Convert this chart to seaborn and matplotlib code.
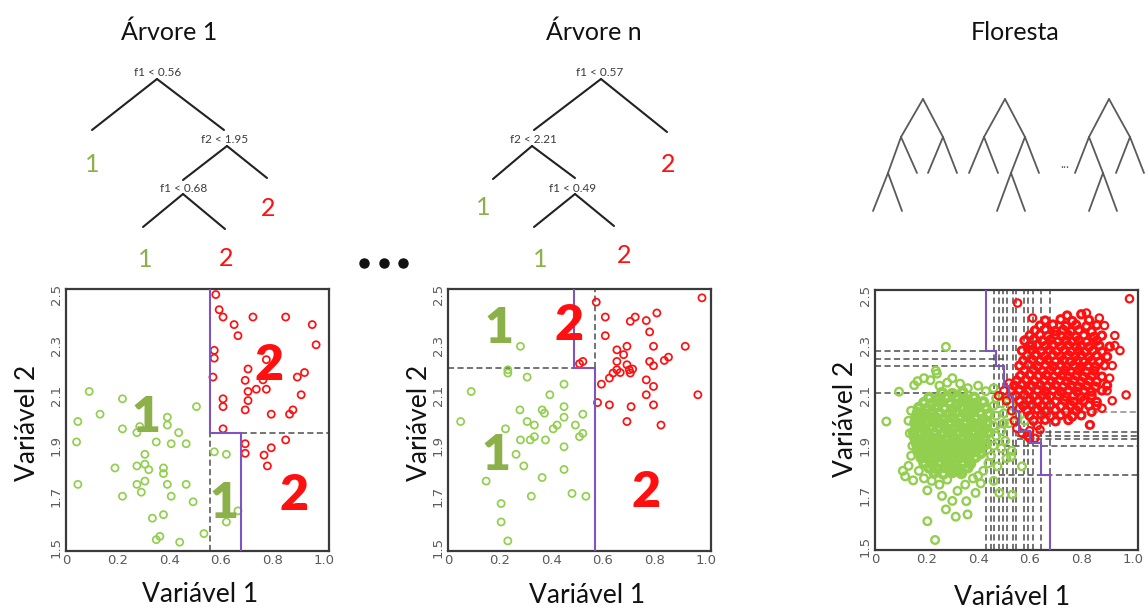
import matplotlib
matplotlib.use("Agg")
import matplotlib.pyplot as plt
import pandas as pd
import seaborn as sns

sns.set_style("white")
plt.rcParams["font.family"] = ["Lato", "DejaVu Sans"]

# ---------------------------------------------------------------- dados
# Árvore 1: amostra bootstrap (classe 1 = verde, classe 2 = vermelho)
arv1_c1_x = [0.09, 0.219, 0.132, 0.046, 0.219, 0.041, 0.046, 0.219, 0.275, 0.286,
             0.506, 0.393, 0.393, 0.437, 0.350, 0.408, 0.466, 0.306, 0.190, 0.275,
             0.306, 0.321, 0.378, 0.378, 0.306, 0.275, 0.292, 0.393, 0.466, 0.408,
             0.493, 0.335, 0.378, 0.364, 0.350, 0.441, 0.535, 0.575, 0.622, 0.667, 0.622]
arv1_c1_y = [2.116, 2.087, 2.026, 1.997, 1.968, 1.916, 1.748, 1.701, 1.953, 1.977,
             2.056, 2.014, 1.983, 1.953, 1.916, 1.909, 1.909, 1.867, 1.813, 1.821,
             1.828, 1.806, 1.813, 1.791, 1.761, 1.748, 1.717, 1.748, 1.748, 1.701,
             1.679, 1.614, 1.628, 1.542, 1.529, 1.519, 1.553, 1.877, 1.867, 1.643, 1.599]
arv1_c2_x = [0.581, 0.594, 0.609, 0.652, 0.667, 0.725, 0.852, 0.955, 0.970, 0.575,
             0.575, 0.570, 0.706, 0.695, 0.738, 0.706, 0.777, 0.764, 0.777, 0.897,
             0.925, 0.912, 0.609, 0.609, 0.706, 0.695, 0.796, 0.880, 0.867, 0.609,
             0.852, 0.695, 0.695, 0.768, 0.796, 0.781]
arv1_c2_y = [2.500, 2.440, 2.411, 2.381, 2.337, 2.411, 2.411, 2.381, 2.301, 2.279,
             2.248, 2.173, 2.205, 2.160, 2.125, 2.116, 2.125, 2.162, 2.242, 2.173,
             2.191, 2.103, 2.087, 2.056, 2.080, 2.043, 2.026, 2.043, 2.026, 1.968,
             1.924, 1.909, 1.871, 1.864, 1.893, 1.821]
# cortes da árvore 1: f1 < 0.56, f2 < 1.95, f1 < 0.68
arv1_cortes = [0.56, 1.95, 0.68]

# Árvore n
arvn_c1_x = [0.049, 0.090, 0.223, 0.232, 0.232, 0.281, 0.307, 0.279, 0.307, 0.335,
             0.365, 0.374, 0.395, 0.450, 0.450, 0.450, 0.423, 0.408, 0.494, 0.523,
             0.523, 0.510, 0.335, 0.319, 0.281, 0.378, 0.450, 0.264, 0.294, 0.450,
             0.365, 0.148, 0.323, 0.481, 0.535, 0.206, 0.206, 0.232]
arvn_c1_y = [1.997, 2.116, 1.968, 2.202, 2.189, 2.295, 2.173, 2.043, 1.997, 1.983,
             2.043, 2.030, 2.103, 2.145, 2.056, 2.014, 1.983, 1.968, 1.983, 2.026,
             1.950, 1.937, 1.937, 1.924, 1.924, 1.924, 1.897, 1.867, 1.821, 1.807,
             1.775, 1.761, 1.701, 1.712, 1.701, 1.672, 1.599, 1.524]
arvn_c2_x = [0.575, 0.985, 0.610, 0.610, 0.707, 0.726, 0.769, 0.810, 0.782, 0.694,
             0.655, 0.681, 0.797, 0.920, 0.855, 0.839, 0.782, 0.797, 0.655, 0.694,
             0.716, 0.703, 0.655, 0.640, 0.668, 0.707, 0.626, 0.595, 0.769, 0.797,
             0.769, 0.969, 0.580, 0.626, 0.710, 0.797, 0.694, 0.826, 0.523, 0.510]
arvn_c2_y = [2.470, 2.487, 2.411, 2.337, 2.394, 2.411, 2.397, 2.427, 2.352, 2.295,
             2.281, 2.262, 2.295, 2.295, 2.252, 2.239, 2.235, 2.218, 2.235, 2.222,
             2.205, 2.202, 2.202, 2.189, 2.191, 2.189, 2.169, 2.145, 2.162, 2.136,
             2.103, 2.103, 2.072, 2.063, 2.056, 2.063, 1.997, 1.983, 2.235, 2.226]
# cortes da árvore n: f1 < 0.57, f2 < 2.21, f1 < 0.49
arvn_cortes = [0.57, 2.21, 0.49]

# Floresta: conjunto completo, classe 1 (núcleo denso e periferia)
floresta_c1_nucleo = [
    (0.26, 2.112), (0.30, 2.108), (0.34, 2.114),
    (0.21, 2.092), (0.245, 2.088), (0.28, 2.094), (0.315, 2.09), (0.35, 2.086), (0.385, 2.093),
    (0.19, 2.072), (0.22, 2.068), (0.255, 2.074), (0.29, 2.07), (0.32, 2.066), (0.355, 2.073),
    (0.39, 2.069), (0.42, 2.075),
    (0.17, 2.052), (0.20, 2.048), (0.235, 2.054), (0.27, 2.05), (0.30, 2.046), (0.335, 2.053),
    (0.37, 2.049), (0.40, 2.055), (0.43, 2.05),
    (0.165, 2.032), (0.19, 2.028), (0.22, 2.034), (0.25, 2.03), (0.285, 2.026), (0.315, 2.033),
    (0.35, 2.029), (0.38, 2.035), (0.41, 2.03), (0.44, 2.026),
    (0.16, 2.012), (0.185, 2.008), (0.21, 2.014), (0.24, 2.01), (0.27, 2.006), (0.30, 2.013),
    (0.33, 2.009), (0.36, 2.015), (0.39, 2.01), (0.42, 2.006),
    (0.155, 1.992), (0.18, 1.988), (0.205, 1.994), (0.235, 1.99), (0.265, 1.986), (0.29, 1.993),
    (0.32, 1.989), (0.35, 1.995), (0.38, 1.99), (0.41, 1.986), (0.435, 1.993),
    (0.16, 1.972), (0.19, 1.968), (0.22, 1.974), (0.25, 1.97), (0.28, 1.966), (0.31, 1.973),
    (0.34, 1.969), (0.37, 1.975), (0.40, 1.97), (0.425, 1.966),
    (0.15, 1.952), (0.175, 1.948), (0.20, 1.954), (0.23, 1.95), (0.26, 1.946), (0.29, 1.953),
    (0.32, 1.949), (0.35, 1.955), (0.38, 1.95), (0.41, 1.946), (0.44, 1.953),
    (0.155, 1.932), (0.185, 1.928), (0.215, 1.934), (0.245, 1.93), (0.275, 1.926), (0.305, 1.933),
    (0.335, 1.929), (0.365, 1.935), (0.395, 1.93), (0.425, 1.926),
    (0.16, 1.912), (0.19, 1.908), (0.22, 1.914), (0.25, 1.91), (0.28, 1.906), (0.31, 1.913),
    (0.34, 1.909), (0.37, 1.915), (0.40, 1.91), (0.43, 1.906),
    (0.165, 1.892), (0.195, 1.888), (0.225, 1.894), (0.255, 1.89), (0.285, 1.886), (0.315, 1.893),
    (0.345, 1.889), (0.375, 1.895), (0.405, 1.89),
    (0.17, 1.872), (0.20, 1.868), (0.23, 1.874), (0.26, 1.87), (0.29, 1.866), (0.32, 1.873),
    (0.35, 1.869), (0.38, 1.875), (0.41, 1.87),
    (0.18, 1.852), (0.21, 1.848), (0.24, 1.854), (0.27, 1.85), (0.30, 1.846), (0.33, 1.853),
    (0.36, 1.849), (0.39, 1.855),
    (0.19, 1.832), (0.22, 1.828), (0.25, 1.834), (0.28, 1.83), (0.31, 1.826), (0.34, 1.833),
    (0.37, 1.829),
    (0.21, 1.812), (0.24, 1.808), (0.27, 1.814), (0.30, 1.81), (0.33, 1.806), (0.36, 1.813),
    (0.23, 1.792), (0.265, 1.788), (0.30, 1.794), (0.335, 1.79),
]
floresta_c1_periferia = [
    (0.044, 1.997), (0.093, 2.116), (0.275, 2.295), (0.236, 2.20), (0.24, 2.188), (0.152, 2.142),
    (0.165, 2.158), (0.19, 2.17), (0.215, 2.162), (0.25, 2.14), (0.28, 2.152), (0.30, 2.17),
    (0.33, 2.148), (0.36, 2.13), (0.40, 2.14), (0.43, 2.118), (0.46, 2.13), (0.47, 2.09),
    (0.46, 2.06), (0.47, 2.02), (0.46, 1.98), (0.47, 1.94), (0.46, 1.90), (0.45, 1.86),
    (0.44, 1.83), (0.42, 1.80), (0.40, 1.78), (0.38, 1.77), (0.117, 1.778), (0.108, 1.80),
    (0.148, 1.762), (0.13, 1.82), (0.14, 1.86), (0.145, 1.90), (0.135, 1.95), (0.13, 2.00),
    (0.14, 2.04), (0.203, 1.722), (0.203, 1.599), (0.233, 1.524), (0.275, 1.646), (0.313, 1.617),
    (0.359, 1.626), (0.354, 1.679), (0.30, 1.68), (0.32, 1.72), (0.26, 1.70), (0.25, 1.745),
    (0.22, 1.76), (0.28, 1.765), (0.35, 1.745), (0.39, 1.712), (0.41, 1.75), (0.482, 1.712),
    (0.532, 1.705), (0.570, 1.818), (0.475, 1.818), (0.46, 1.76), (0.17, 1.80), (0.19, 1.77),
    (0.52, 2.10), (0.53, 2.06), (0.50, 2.03), (0.52, 1.99), (0.49, 1.96), (0.505, 1.92),
    (0.53, 1.88), (0.51, 1.85), (0.55, 2.02), (0.528, 1.856), (0.635, 2.18), (0.58, 2.00),
    (0.49, 2.07), (0.50, 1.99), (0.49, 1.89),
]
# classe 2 (núcleo denso e periferia)
floresta_c2_nucleo = [
    (0.745, 2.42), (0.80, 2.425),
    (0.66, 2.40), (0.72, 2.405), (0.765, 2.398), (0.83, 2.402),
    (0.64, 2.38), (0.69, 2.384), (0.74, 2.378), (0.78, 2.383), (0.82, 2.377), (0.86, 2.382),
    (0.62, 2.36), (0.66, 2.364), (0.70, 2.358), (0.73, 2.363), (0.76, 2.357), (0.79, 2.362), (0.84, 2.356),
    (0.60, 2.34), (0.64, 2.344), (0.67, 2.338), (0.70, 2.343), (0.725, 2.337), (0.75, 2.342),
    (0.78, 2.336), (0.81, 2.341), (0.85, 2.335), (0.88, 2.34),
    (0.58, 2.32), (0.615, 2.324), (0.65, 2.318), (0.68, 2.323), (0.71, 2.317), (0.74, 2.322),
    (0.765, 2.316), (0.79, 2.321), (0.82, 2.315), (0.86, 2.32),
    (0.60, 2.30), (0.63, 2.304), (0.66, 2.298), (0.69, 2.303), (0.72, 2.297), (0.75, 2.302),
    (0.78, 2.296), (0.80, 2.301), (0.83, 2.295), (0.87, 2.30), (0.91, 2.296),
    (0.57, 2.28), (0.61, 2.284), (0.645, 2.278), (0.675, 2.283), (0.705, 2.277), (0.735, 2.282),
    (0.76, 2.276), (0.79, 2.281), (0.815, 2.275), (0.845, 2.28), (0.88, 2.276),
    (0.59, 2.26), (0.625, 2.264), (0.66, 2.258), (0.69, 2.263), (0.72, 2.257), (0.75, 2.262),
    (0.775, 2.256), (0.80, 2.261), (0.83, 2.255), (0.86, 2.26), (0.90, 2.256),
    (0.575, 2.24), (0.61, 2.244), (0.64, 2.238), (0.67, 2.243), (0.70, 2.237), (0.73, 2.242),
    (0.76, 2.236), (0.785, 2.241), (0.81, 2.235), (0.84, 2.24), (0.87, 2.236),
    (0.56, 2.22), (0.595, 2.224), (0.63, 2.218), (0.66, 2.223), (0.69, 2.217), (0.72, 2.222),
    (0.745, 2.216), (0.77, 2.221), (0.80, 2.215), (0.825, 2.22), (0.855, 2.216), (0.89, 2.221),
    (0.58, 2.20), (0.615, 2.204), (0.65, 2.198), (0.68, 2.203), (0.71, 2.197), (0.735, 2.202),
    (0.76, 2.196), (0.79, 2.201), (0.82, 2.195), (0.85, 2.20),
    (0.565, 2.18), (0.60, 2.184), (0.635, 2.178), (0.665, 2.183), (0.695, 2.177), (0.725, 2.182),
    (0.75, 2.176), (0.78, 2.181), (0.81, 2.175), (0.84, 2.18), (0.88, 2.176),
    (0.55, 2.16), (0.585, 2.164), (0.62, 2.158), (0.655, 2.163), (0.685, 2.157), (0.715, 2.162),
    (0.745, 2.156), (0.77, 2.161), (0.80, 2.155), (0.83, 2.16), (0.86, 2.156),
    (0.54, 2.14), (0.57, 2.144), (0.61, 2.138), (0.64, 2.143), (0.67, 2.137), (0.70, 2.142),
    (0.73, 2.136), (0.76, 2.141), (0.79, 2.135), (0.82, 2.14), (0.855, 2.136), (0.90, 2.141),
    (0.53, 2.12), (0.56, 2.124), (0.595, 2.118), (0.63, 2.123), (0.66, 2.117), (0.69, 2.122),
    (0.72, 2.116), (0.75, 2.121), (0.785, 2.115), (0.81, 2.12), (0.84, 2.116), (0.88, 2.121),
    (0.545, 2.10), (0.58, 2.104), (0.615, 2.098), (0.65, 2.103), (0.68, 2.097), (0.71, 2.102),
    (0.74, 2.096), (0.77, 2.101), (0.80, 2.095), (0.84, 2.10),
    (0.56, 2.08), (0.60, 2.084), (0.63, 2.078), (0.665, 2.083), (0.70, 2.077), (0.735, 2.082),
    (0.77, 2.076), (0.81, 2.081), (0.86, 2.075),
    (0.575, 2.06), (0.61, 2.064), (0.645, 2.058), (0.68, 2.063), (0.72, 2.057), (0.76, 2.062),
    (0.79, 2.056), (0.83, 2.061),
    (0.59, 2.04), (0.63, 2.044), (0.66, 2.038), (0.70, 2.043), (0.74, 2.037), (0.78, 2.042), (0.84, 2.036),
    (0.60, 2.02), (0.645, 2.024), (0.68, 2.018), (0.72, 2.023), (0.765, 2.017), (0.80, 2.022),
    (0.615, 2.00), (0.66, 2.004), (0.70, 1.998), (0.75, 2.003),
]
floresta_c2_periferia = [
    (0.63, 1.98), (0.835, 1.984), (0.60, 1.96), (0.64, 1.964),
    (0.50, 2.12), (0.48, 2.10), (0.52, 2.15), (0.51, 2.08), (0.53, 2.04), (0.54, 2.00),
    (0.55, 1.97), (0.57, 1.95), (0.59, 1.94), (0.60, 1.93), (0.62, 1.93), (0.56, 2.05),
    (0.553, 2.47), (0.611, 2.41), (0.987, 2.487), (0.974, 2.103), (0.832, 1.983), (0.93, 2.30),
    (0.95, 2.28), (0.92, 2.22), (0.91, 2.17), (0.90, 2.12), (0.89, 2.38), (0.87, 2.41),
    (0.82, 2.43), (0.93, 2.34), (0.86, 2.06), (0.88, 2.05), (0.92, 2.08), (0.61, 2.30), (0.62, 2.26),
]
# fronteira combinada da floresta (degraus)
floresta_degrau_x = [0.43, 0.47, 0.50, 0.52, 0.535, 0.56, 0.60, 0.645, 0.68]
floresta_degrau_y = [2.28, 2.22, 2.14, 2.10, 2.04, 1.96, 1.91, 1.785]
# cortes individuais das árvores
floresta_cortes_v = [0.462, 0.482, 0.497, 0.510, 0.534, 0.547, 0.579, 0.592, 0.611, 0.644, 0.679]
floresta_cortes_v_baixo = [0.43, 0.449]
floresta_cortes_h_esq = [2.28, 2.245, 2.22, 2.11]
floresta_cortes_h_dir = [1.957, 1.941, 1.928, 1.901, 1.782, 2.035]

xticks = [0, 0.2, 0.4, 0.6, 0.8, 1.0]
xtick_labels = ["0", "0.2", "0.4", "0.6", "0.8", "1.0"]
yticks = [1.5, 1.7, 1.9, 2.1, 2.3, 2.5]
ytick_labels = ["1.5", "1.7", "1.9", "2.1", "2.3", "2.5"]

# ---------------------------------------------------------------- estilo
GREEN_PT = "#92CF4E"
GREEN_TXT = "#8DB14A"
RED = "#FF1010"
PURPLE = "#7C55C0"
DASH = "#4d4d4d"
XLIM = (0, 1.02)
YLIM = (1.484, 2.522)
DASHES = (0, (4, 2.2))

W, H = 1148, 609
fig = plt.figure(figsize=(W / 100, H / 100), dpi=100)

ov = fig.add_axes([0, 0, 1, 1])
ov.set_xlim(0, W)
ov.set_ylim(H, 0)
ov.axis("off")


def box(l, t, r, b):
    return [l / W, 1 - b / H, (r - l) / W, (b - t) / H]


def estilo(ax):
    ax.set_xlim(*XLIM)
    ax.set_ylim(*YLIM)
    ax.set_xticks(xticks)
    ax.set_xticklabels(xtick_labels)
    ax.set_yticks(yticks)
    ax.set_yticklabels(ytick_labels, rotation=90, va="center")
    ax.tick_params(length=0, pad=2.5, labelsize=10, labelcolor="#5a5a5a")
    for lbl in ax.get_xticklabels() + ax.get_yticklabels():
        lbl.set_family(["DejaVu Sans"])
        lbl.set_fontsize(9.5)
    for s in ax.spines.values():
        s.set_visible(True)
        s.set_color("#3a3a3a")
        s.set_linewidth(1.6)
    ax.set_xlabel("")
    ax.set_ylabel("")
    ax.grid(False)


def pontos(ax, x, y, cor, s=26, lw=1.25):
    df = pd.DataFrame({"v1": x, "v2": y})
    sns.scatterplot(data=df, x="v1", y="v2", ax=ax, color=cor, facecolor="none",
                    edgecolor=cor, s=s, linewidth=lw, zorder=3)


def tracejado(ax, xs, ys, cor=DASH, lw=1.1, z=2):
    ax.plot(xs, ys, color=cor, lw=lw, linestyle=DASHES, zorder=z)


def roxo(ax, xs, ys):
    ax.plot(xs, ys, color=PURPLE, lw=1.5, zorder=4, solid_joinstyle="miter")


def numero(ax, x, y, txt, cor):
    ax.text(x, y, txt, color=cor, fontsize=36, fontweight="heavy", ha="center",
            va="baseline", zorder=6)


ytop, ybot = YLIM[1], YLIM[0]
xright = XLIM[1]

# ---- painel Árvore 1
ax1 = fig.add_axes(box(66, 289, 329, 551))
a, b, c = arv1_cortes
tracejado(ax1, [a, a], [ybot, b])
tracejado(ax1, [c, xright], [b, b])
pontos(ax1, arv1_c1_x, arv1_c1_y, GREEN_PT)
pontos(ax1, arv1_c2_x, arv1_c2_y, RED)
roxo(ax1, [a, a, c, c], [ytop, b, b, ybot])
numero(ax1, 0.312, 1.957, "1", GREEN_TXT)
numero(ax1, 0.787, 2.162, "2", RED)
numero(ax1, 0.612, 1.613, "1", GREEN_TXT)
numero(ax1, 0.886, 1.646, "2", RED)
estilo(ax1)

# ---- painel Árvore n
ax2 = fig.add_axes(box(448, 289, 711, 551))
a, b, c = arvn_cortes
tracejado(ax2, [0, c], [b, b])
tracejado(ax2, [a, a], [b, ytop])
pontos(ax2, arvn_c1_x, arvn_c1_y, GREEN_PT)
pontos(ax2, arvn_c2_x, arvn_c2_y, RED)
roxo(ax2, [c, c, a, a], [ytop, b, b, ybot])
numero(ax2, 0.197, 2.308, "1", GREEN_TXT)
numero(ax2, 0.471, 2.321, "2", RED)
numero(ax2, 0.185, 1.805, "1", GREEN_TXT)
numero(ax2, 0.769, 1.659, "2", RED)
estilo(ax2)

# ---- painel Floresta
ax3 = fig.add_axes(box(875, 290, 1138, 550))
for xv in floresta_cortes_v:
    tracejado(ax3, [xv, xv], [ybot, ytop], z=1)
for xv in floresta_cortes_v_baixo:
    tracejado(ax3, [xv, xv], [ybot, 2.05], z=1)
for yv, x1 in zip(floresta_cortes_h_esq, [0.47, 0.50, 0.50, 0.52]):
    tracejado(ax3, [0, x1], [yv, yv], z=1)
for yv, x0 in zip(floresta_cortes_h_dir, [0.55, 0.55, 0.55, 0.50, 0.48, 0.62]):
    cor = "#8a8a8a" if yv > 2.0 else DASH
    tracejado(ax3, [x0, xright], [yv, yv], cor=cor, z=1)


def nuvem(lista):
    return pd.DataFrame(lista, columns=["v1", "v2"])


g_n, g_p = nuvem(floresta_c1_nucleo), nuvem(floresta_c1_periferia)
r_n, r_p = nuvem(floresta_c2_nucleo), nuvem(floresta_c2_periferia)
pontos(ax3, g_p["v1"], g_p["v2"], GREEN_PT, s=30, lw=1.7)
pontos(ax3, g_n["v1"], g_n["v2"], GREEN_PT, s=30, lw=3.0)
pontos(ax3, r_p["v1"], r_p["v2"], RED, s=28, lw=1.6)
pontos(ax3, r_n["v1"], r_n["v2"], RED, s=28, lw=2.2)
sx, sy = [floresta_degrau_x[0]], [ytop]
for i, yv in enumerate(floresta_degrau_y):
    sx += [floresta_degrau_x[i], floresta_degrau_x[i + 1]]
    sy += [yv, yv]
sx.append(floresta_degrau_x[-1])
sy.append(ybot)
roxo(ax3, sx, sy)
estilo(ax3)

# ---------------------------------------------------------------- rótulos de eixo
for cx, base in [(200, 602), (587, 603), (1012, 605)]:
    ov.text(cx, base, "Variável 1", fontsize=19, ha="center", va="baseline", color="#111")
for bx, cy in [(35, 423), (427, 423), (853, 419)]:
    ov.text(bx, cy, "Variável 2", fontsize=19, ha="center", va="baseline", color="#111",
            rotation=90, rotation_mode="anchor")

# ---------------------------------------------------------------- títulos
for cx, txt in [(169, "Árvore 1"), (594, "Árvore n"), (1015, "Floresta")]:
    ov.text(cx, 40, txt, fontsize=18, ha="center", va="baseline", color="#111")

# ---------------------------------------------------------------- árvores de decisão
TREE = dict(color="#222222", lw=1.5, solid_capstyle="round")


def ramo(p, q, **kw):
    ov.plot([p[0], q[0]], [p[1], q[1]], **kw)


def corte(x, y, var, v):
    ov.text(x, y, f"{var} < {v:g}", fontsize=8.5, ha="center", va="baseline",
            color="#3c3c3c")


def folha(x, y, txt, cor):
    ov.text(x, y, txt, fontsize=18, ha="center", va="baseline", color=cor)


# Árvore 1
corte(158, 76, "f1", arv1_cortes[0])
ramo((157, 79), (92, 130), **TREE)
ramo((157, 79), (224, 130), **TREE)
corte(225, 143, "f2", arv1_cortes[1])
ramo((227, 146), (183, 180), **TREE)
ramo((227, 146), (267, 178), **TREE)
corte(184, 192, "f1", arv1_cortes[2])
ramo((183, 194), (143, 227), **TREE)
ramo((183, 194), (225, 229), **TREE)
folha(92, 172, "1", GREEN_TXT)
folha(268, 216, "2", RED)
folha(145, 267, "1", GREEN_TXT)
folha(226, 266, "2", RED)

# Árvore n
corte(600, 76, "f1", arvn_cortes[0])
ramo((601, 79), (534, 130), **TREE)
ramo((601, 79), (667, 132), **TREE)
corte(533, 143, "f2", arvn_cortes[1])
ramo((532, 146), (493, 179), **TREE)
ramo((532, 146), (575, 178), **TREE)
corte(573, 192, "f1", arvn_cortes[2])
ramo((575, 194), (534, 227), **TREE)
ramo((575, 194), (614, 226), **TREE)
folha(668, 172, "2", RED)
folha(483, 215, "1", GREEN_TXT)
folha(540, 267, "1", GREEN_TXT)
folha(624, 263, "2", RED)

# reticências entre as árvores
ov.plot([364, 383.5, 403], [263, 263, 263], "o", color="#111", ms=6.5)

# Floresta: miniaturas de árvores
MINI = dict(color="#5a5a5a", lw=1.3)
mini_arvores = [
    [((923, 99), (901, 137)), ((923, 99), (943, 137)),
     ((901, 137), (888, 173)), ((901, 137), (917, 173)),
     ((888, 173), (873, 211)), ((888, 173), (902, 211)),
     ((943, 137), (928, 173)), ((943, 137), (957, 173))],
    [((1005, 99), (984, 137)), ((1005, 99), (1025, 137)),
     ((984, 137), (969, 173)), ((984, 137), (998, 173)),
     ((1025, 137), (1011, 173)), ((1025, 137), (1039, 173)),
     ((1011, 173), (997, 211)), ((1011, 173), (1025, 211))],
    [((1109, 99), (1089, 137)), ((1109, 99), (1130, 137)),
     ((1089, 137), (1075, 173)), ((1089, 137), (1103, 173)),
     ((1103, 173), (1089, 211)), ((1103, 173), (1117, 211)),
     ((1130, 137), (1116, 173)), ((1130, 137), (1144, 173))],
]
for arv in mini_arvores:
    for p, q in arv:
        ramo(p, q, **MINI)
ov.text(1065, 168, "...", fontsize=9, ha="center", va="baseline", color="#555")

fig.savefig("out.png", dpi=100)
